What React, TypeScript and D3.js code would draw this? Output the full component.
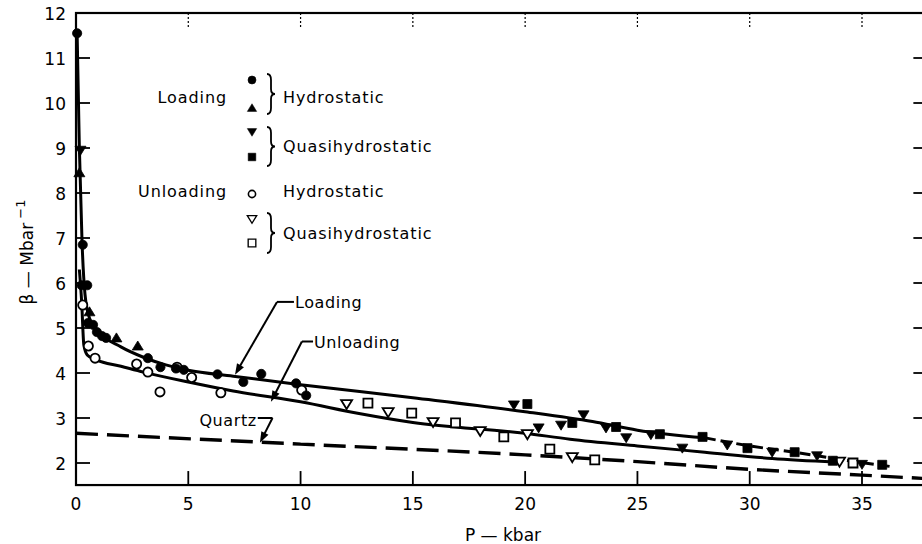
import { useEffect, useRef } from 'react'
import * as d3 from 'd3'

type Pt = [number, number]

// x: pressure P (kbar), y: compressibility beta (Mbar^-1)
const xTicks = [0, 5, 10, 15, 20, 25, 30, 35]
const yTicks = [2, 3, 4, 5, 6, 7, 8, 9, 10, 11, 12]

const loadingCurve: Pt[] = [
  [0.05, 11.55], [0.15, 9.0], [0.27, 6.9], [0.4, 5.75], [0.6, 5.22], [1, 4.92], [2, 4.58],
  [3, 4.35], [4, 4.18], [5, 4.06], [7, 3.93], [10, 3.74], [15, 3.45], [20, 3.14],
  [23, 2.92], [25, 2.73], [28, 2.56],
]
const loadingTail: Pt[] = [[28, 2.56], [30, 2.38], [32, 2.24], [34, 2.08], [36.3, 1.92]]
const unloadingCurve: Pt[] = [
  [0.15, 6.3], [0.25, 5.6], [0.35, 4.62], [0.5, 4.4], [0.9, 4.29], [2, 4.15], [3, 4.02],
  [5, 3.8], [7, 3.6], [10, 3.36], [12.6, 3.1], [15, 2.9], [20, 2.66], [22, 2.53],
  [25, 2.38], [28, 2.24], [31, 2.1], [33.8, 2.02],
]
const quartzCurve: Pt[] = [[0, 2.66], [10, 2.42], [20, 2.18], [25, 2.03], [30, 1.86], [35, 1.73], [38, 1.65]]

const loadHydroCircle: Pt[] = [
  [0.05, 11.55], [0.3, 6.85], [0.25, 5.95], [0.5, 5.95], [0.53, 5.11], [0.76, 5.07],
  [0.93, 4.91], [1.16, 4.82], [1.34, 4.78], [3.2, 4.33], [3.76, 4.13], [4.45, 4.1],
  [4.8, 4.07], [6.3, 3.97], [7.45, 3.8], [8.25, 3.98], [9.8, 3.77], [10.25, 3.5],
]
const loadHydroTriangle: Pt[] = [[0.15, 8.45], [0.6, 5.36], [1.8, 4.78], [2.75, 4.6]]
const loadQuasiTriangle: Pt[] = [
  [0.2, 8.95], [19.5, 3.29], [20.6, 2.78], [21.6, 2.84], [22.6, 3.07], [23.6, 2.78],
  [24.5, 2.56], [25.6, 2.63], [27.0, 2.33], [29.0, 2.4], [31.0, 2.24], [33.0, 2.16], [35.0, 1.97],
]
const loadQuasiSquare: Pt[] = [
  [20.1, 3.31], [22.1, 2.89], [24.05, 2.8], [26.0, 2.64], [27.9, 2.58], [29.9, 2.33],
  [32.0, 2.24], [33.7, 2.05], [35.9, 1.96],
]
const unloadHydroCircle: Pt[] = [
  [0.3, 5.51], [0.55, 4.6], [0.85, 4.33], [2.7, 4.2], [3.2, 4.02], [3.74, 3.58],
  [4.5, 4.13], [5.15, 3.9], [6.45, 3.56], [10.05, 3.62],
]
const unloadQuasiTriangle: Pt[] = [
  [12.05, 3.31], [13.9, 3.13], [15.9, 2.91], [18.0, 2.71], [20.1, 2.64], [22.1, 2.13], [34.0, 2.03],
]
const unloadQuasiSquare: Pt[] = [
  [13.0, 3.33], [14.95, 3.11], [16.9, 2.89], [19.05, 2.58], [21.1, 2.31], [23.1, 2.07], [34.6, 2.0],
]

// curve labels: [text, text start, elbow, arrow tip] in data units
const curveLabels = [
  { text: 'Loading', at: [9.75, 5.58] as Pt, elbow: [8.95, 5.58] as Pt, tip: [7.08, 3.96] as Pt },
  { text: 'Unloading', at: [10.6, 4.7] as Pt, elbow: [10.06, 4.7] as Pt, tip: [8.68, 3.36] as Pt },
]
const quartzLabel = { text: 'Quartz', at: [8.05, 2.96] as Pt, elbow: [8.75, 3.0] as Pt, tip: [8.19, 2.45] as Pt }

const FONT = "'DejaVu Sans', sans-serif"

function App() {
  const ref = useRef<SVGSVGElement>(null)

  useEffect(() => {
    const svg = d3.select(ref.current)
    svg.selectAll('*').remove()

    const x = d3.scaleLinear().domain([0, 35]).range([76, 862])
    const y = d3.scaleLinear().domain([2, 12]).range([463, 13])
    const left = x(0), right = x(38), top = y(12), bottom = y(1.51)

    svg.append('defs').append('clipPath').attr('id', 'plot')
      .append('rect').attr('x', left).attr('y', top).attr('width', right - left).attr('height', bottom - top)

    // frame
    svg.append('rect').attr('x', left).attr('y', top).attr('width', right - left).attr('height', bottom - top)
      .attr('fill', 'none').attr('stroke', '#000').attr('stroke-width', 2.2)

    const tickG = svg.append('g').attr('stroke', '#000').attr('stroke-width', 1.8)
    xTicks.filter((t) => t > 0).forEach((t) => {
      tickG.append('line').attr('x1', x(t)).attr('x2', x(t)).attr('y1', bottom).attr('y2', bottom - 14)
      tickG.append('line').attr('x1', x(t)).attr('x2', x(t)).attr('y1', top).attr('y2', top + 15)
        .attr('stroke-width', 1.2).attr('stroke-dasharray', '2 2')
    })
    yTicks.filter((t) => t < 12).forEach((t) => {
      tickG.append('line').attr('x1', left).attr('x2', left + 14).attr('y1', y(t)).attr('y2', y(t))
      tickG.append('line').attr('x1', right - 16).attr('x2', right).attr('y1', y(t)).attr('y2', y(t))
    })

    svg.append('g').selectAll('text').data(xTicks).join('text')
      .attr('x', (d) => x(d)).attr('y', 510).attr('text-anchor', 'middle')
      .attr('font-family', FONT).attr('font-size', 17).text((d) => d)
    svg.append('g').selectAll('text').data(yTicks).join('text')
      .attr('x', 66).attr('y', (d) => y(d) + 7).attr('text-anchor', 'end')
      .attr('font-family', FONT).attr('font-size', 17).text((d) => d)

    svg.append('text').attr('x', 503).attr('y', 541).attr('text-anchor', 'middle')
      .attr('font-family', FONT).attr('font-size', 17).text('P — kbar')
    const yl = svg.append('text').attr('transform', 'translate(33,252) rotate(-90)')
      .attr('text-anchor', 'middle').attr('font-family', FONT).attr('font-size', 17)
    yl.append('tspan').text('β — Mbar')
    yl.append('tspan').attr('dy', -8).attr('font-size', 13).text(' −1')

    // curves
    const plot = svg.append('g').attr('clip-path', 'url(#plot)')
    const line = d3.line<Pt>().x((d) => x(d[0])).y((d) => y(d[1])).curve(d3.curveMonotoneX)
    plot.append('path').attr('d', line(quartzCurve)).attr('fill', 'none').attr('stroke', '#000')
      .attr('stroke-width', 3.4).attr('stroke-dasharray', '22 9')
    plot.append('path').attr('d', line(unloadingCurve)).attr('fill', 'none').attr('stroke', '#000').attr('stroke-width', 3)
    plot.append('path').attr('d', line(loadingCurve)).attr('fill', 'none').attr('stroke', '#000').attr('stroke-width', 3)
    plot.append('path').attr('d', line(loadingTail)).attr('fill', 'none').attr('stroke', '#000')
      .attr('stroke-width', 3).attr('stroke-dasharray', '11 5')

    // markers
    const s = 5
    const tri = (up: boolean) => up
      ? `M0,${-s}L${s + 0.5},${s - 1}L${-s - 0.5},${s - 1}Z`
      : `M0,${s}L${s + 0.5},${-s + 1}L${-s - 0.5},${-s + 1}Z`
    const sq = `M${-4.5},${-4.5}h9v9h-9Z`
    const drawMarks = (g: d3.Selection<SVGGElement, unknown, null, undefined>, data: Pt[], kind: string, filled: boolean, scale = 1) => {
      g.selectAll(null).data(data).join((enter) => {
        const e = kind === 'circle' ? enter.append('circle').attr('r', 4.6 * scale) : enter.append('path')
          .attr('d', kind === 'up' ? tri(true) : kind === 'down' ? tri(false) : sq)
        return e
      })
        .attr('transform', (d) => `translate(${x(d[0])},${y(d[1])}) scale(${kind === 'circle' ? 1 : scale})`)
        .attr('fill', filled ? '#000' : '#fff').attr('stroke', '#000').attr('stroke-width', filled ? 0.8 : 1.8)
    }
    const mg = svg.append('g')
    drawMarks(mg, unloadHydroCircle, 'circle', false)
    drawMarks(mg, unloadQuasiTriangle, 'down', false)
    drawMarks(mg, unloadQuasiSquare, 'square', false)
    drawMarks(mg, loadHydroCircle, 'circle', true)
    drawMarks(mg, loadHydroTriangle, 'up', true)
    drawMarks(mg, loadQuasiTriangle, 'down', true)
    drawMarks(mg, loadQuasiSquare, 'square', true)

    // curve labels with arrows
    const arrow = (from: Pt, tip: Pt) => {
      const x1 = x(from[0]), y1 = y(from[1]), x2 = x(tip[0]), y2 = y(tip[1])
      const a = Math.atan2(y2 - y1, x2 - x1)
      svg.append('line').attr('x1', x1).attr('y1', y1).attr('x2', x2 - 6 * Math.cos(a)).attr('y2', y2 - 6 * Math.sin(a))
        .attr('stroke', '#000').attr('stroke-width', 2)
      const L = 11, W = 4
      const bx = x2 - L * Math.cos(a), by = y2 - L * Math.sin(a)
      svg.append('path')
        .attr('d', `M${x2},${y2}L${bx - W * Math.sin(a)},${by + W * Math.cos(a)}L${bx + W * Math.sin(a)},${by - W * Math.cos(a)}Z`)
        .attr('fill', '#000')
    }
    curveLabels.forEach((c) => {
      svg.append('line').attr('x1', x(c.elbow[0])).attr('y1', y(c.elbow[1])).attr('x2', x(c.at[0]) - 1).attr('y2', y(c.elbow[1]))
        .attr('stroke', '#000').attr('stroke-width', 2)
      arrow(c.elbow, c.tip)
      svg.append('text').attr('x', x(c.at[0])).attr('y', y(c.at[1]) + 6).attr('font-family', FONT)
        .attr('font-size', 16).attr('letter-spacing', 0.6).text(c.text)
    })
    svg.append('text').attr('x', x(quartzLabel.at[0])).attr('y', y(quartzLabel.at[1]) + 6).attr('text-anchor', 'end')
      .attr('font-family', FONT).attr('font-size', 16).attr('letter-spacing', 0.6).text(quartzLabel.text)
    svg.append('line').attr('x1', x(quartzLabel.at[0]) + 1).attr('x2', x(quartzLabel.elbow[0]))
      .attr('y1', y(quartzLabel.elbow[1])).attr('y2', y(quartzLabel.elbow[1])).attr('stroke', '#000').attr('stroke-width', 2)
    arrow(quartzLabel.elbow, quartzLabel.tip)

    // legend
    const lg = svg.append('g').attr('font-family', FONT).attr('font-size', 16).attr('letter-spacing', 0.9)
    const mx = 252
    const brace = (bx: number, y1: number, y2: number) => {
      const w = 8, ym = (y1 + y2) / 2, h = w / 2
      lg.append('path')
        .attr('d', `M${bx},${y1}Q${bx + h},${y1} ${bx + h},${y1 + 6}L${bx + h},${ym - 5}Q${bx + h},${ym} ${bx + w},${ym}` +
          `Q${bx + h},${ym} ${bx + h},${ym + 5}L${bx + h},${y2 - 6}Q${bx + h},${y2} ${bx},${y2}`)
        .attr('fill', 'none').attr('stroke', '#000').attr('stroke-width', 1.8)
    }
    const legendMark = (kind: string, filled: boolean, cy: number) => {
      const el = kind === 'circle'
        ? lg.append('circle').attr('r', kind === 'circle' && !filled ? 3.6 : 4).attr('cx', mx).attr('cy', cy)
        : lg.append('path').attr('d', kind === 'up' ? tri(true) : kind === 'down' ? tri(false) : sq)
          .attr('transform', `translate(${mx},${cy}) scale(0.85)`)
      el.attr('fill', filled ? '#000' : '#fff').attr('stroke', '#000').attr('stroke-width', filled ? 0.6 : 1.6)
    }
    lg.append('text').attr('x', 227).attr('y', 103).attr('text-anchor', 'end').text('Loading')
    legendMark('circle', true, 80)
    legendMark('up', true, 108)
    brace(267, 74, 114)
    lg.append('text').attr('x', 283).attr('y', 103).text('Hydrostatic')
    legendMark('down', true, 132)
    legendMark('square', true, 157)
    brace(267, 127, 166)
    lg.append('text').attr('x', 283).attr('y', 152).text('Quasihydrostatic')
    lg.append('text').attr('x', 227).attr('y', 197).attr('text-anchor', 'end').text('Unloading')
    legendMark('circle', false, 194)
    lg.append('text').attr('x', 283).attr('y', 197).text('Hydrostatic')
    legendMark('down', false, 219)
    legendMark('square', false, 243)
    brace(267, 213, 253)
    lg.append('text').attr('x', 283).attr('y', 239).text('Quasihydrostatic')
  }, [])

  return (
    <svg ref={ref} width={922} height={544}
      style={{ position: 'absolute', left: 0, top: 0, background: '#fff' }} />
  )
}

export default App
